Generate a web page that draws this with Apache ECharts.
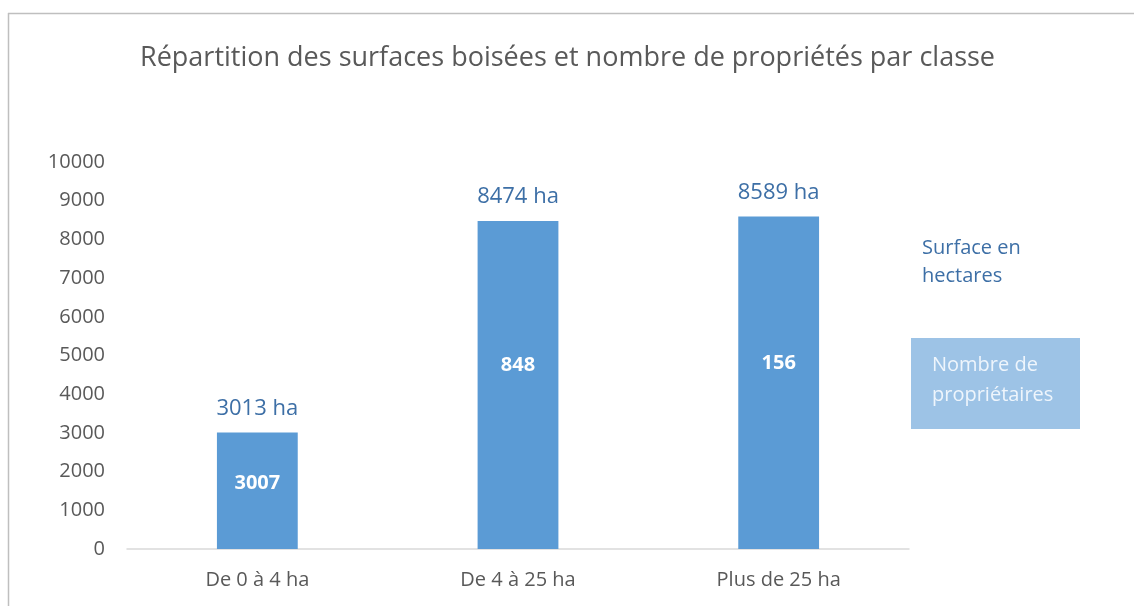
<!DOCTYPE html>
<html>
<head>
<meta charset="utf-8">
<script src="https://cdn.jsdelivr.net/npm/echarts@6/dist/echarts.min.js"></script>
<style>html,body{margin:0;padding:0;background:#fff}#c{width:1134px;height:606px}</style>
</head>
<body>
<div id="c"></div>
<script>
const categories = ['De 0 à 4 ha', 'De 4 à 25 ha', 'Plus de 25 ha'];
const surfaces = [3013, 8474, 8589];
const proprietaires = [3007, 848, 156];
const titleText = 'Répartition des surfaces boisées et nombre de propriétés par classe';
const surfaceLegend = ['Surface en', 'hectares'];
const ownerLegend = ['Nombre de', 'propriétaires'];

const FONT = '"Open Sans", Lato, sans-serif';
const chart = echarts.init(document.getElementById('c'));
chart.setOption({
  animation: false,
  backgroundColor: '#fff',
  textStyle: { fontFamily: FONT },
  grid: { left: 127, right: 225, top: 162, bottom: 57 },
  xAxis: {
    type: 'category',
    data: categories,
    axisLine: { lineStyle: { color: '#d9d9d9', width: 1.5 } },
    axisTick: { show: false },
    axisLabel: { color: '#595959', fontSize: 20, margin: 21, fontFamily: FONT }
  },
  yAxis: {
    type: 'value',
    min: 0, max: 10000, interval: 1000,
    axisLine: { show: false },
    axisTick: { show: false },
    splitLine: { show: false },
    axisLabel: { color: '#595959', fontSize: 20, margin: 22, fontFamily: FONT, formatter: v => String(v) }
  },
  series: [{
    type: 'bar',
    data: surfaces,
    barWidth: '31%',
    itemStyle: { color: '#5b9bd5' },
    label: {
      show: true, position: 'top', distance: 13,
      color: '#3d6fa6', fontSize: 22, fontFamily: FONT,
      formatter: p => p.value + ' ha'
    }
  }, {
    type: 'bar',
    data: surfaces,
    barWidth: '31%',
    barGap: '-100%',
    itemStyle: { color: 'transparent' },
    silent: true,
    z: 3,
    label: {
      show: true, position: ['50%', '44%'], align: 'center', verticalAlign: 'middle',
      color: '#fff', fontSize: 20, fontWeight: 'bold', fontFamily: FONT,
      formatter: p => String(proprietaires[p.dataIndex])
    }
  }],
  graphic: [
    { type: 'line', shape: { x1: 8, y1: 13.5, x2: 1134, y2: 13.5 }, style: { stroke: '#bfbfbf', lineWidth: 1.5 } },
    { type: 'line', shape: { x1: 8.5, y1: 13, x2: 8.5, y2: 606 }, style: { stroke: '#bfbfbf', lineWidth: 1.5 } },
    { type: 'text', left: 140, top: 45, style: { text: titleText, fill: '#595959', font: '27px ' + FONT } },
    { type: 'text', left: 922, top: 234, style: { text: surfaceLegend.join('\n'), fill: '#3d6fa6', font: '20px ' + FONT, lineHeight: 28 } },
    { type: 'rect', shape: { x: 911, y: 338, width: 169, height: 91 }, style: { fill: '#9dc3e6' } },
    { type: 'text', left: 932, top: 350, style: { text: ownerLegend.join('\n'), fill: '#eef5fc', font: '20px ' + FONT, lineHeight: 30 } }
  ]
});
</script>
</body>
</html>
